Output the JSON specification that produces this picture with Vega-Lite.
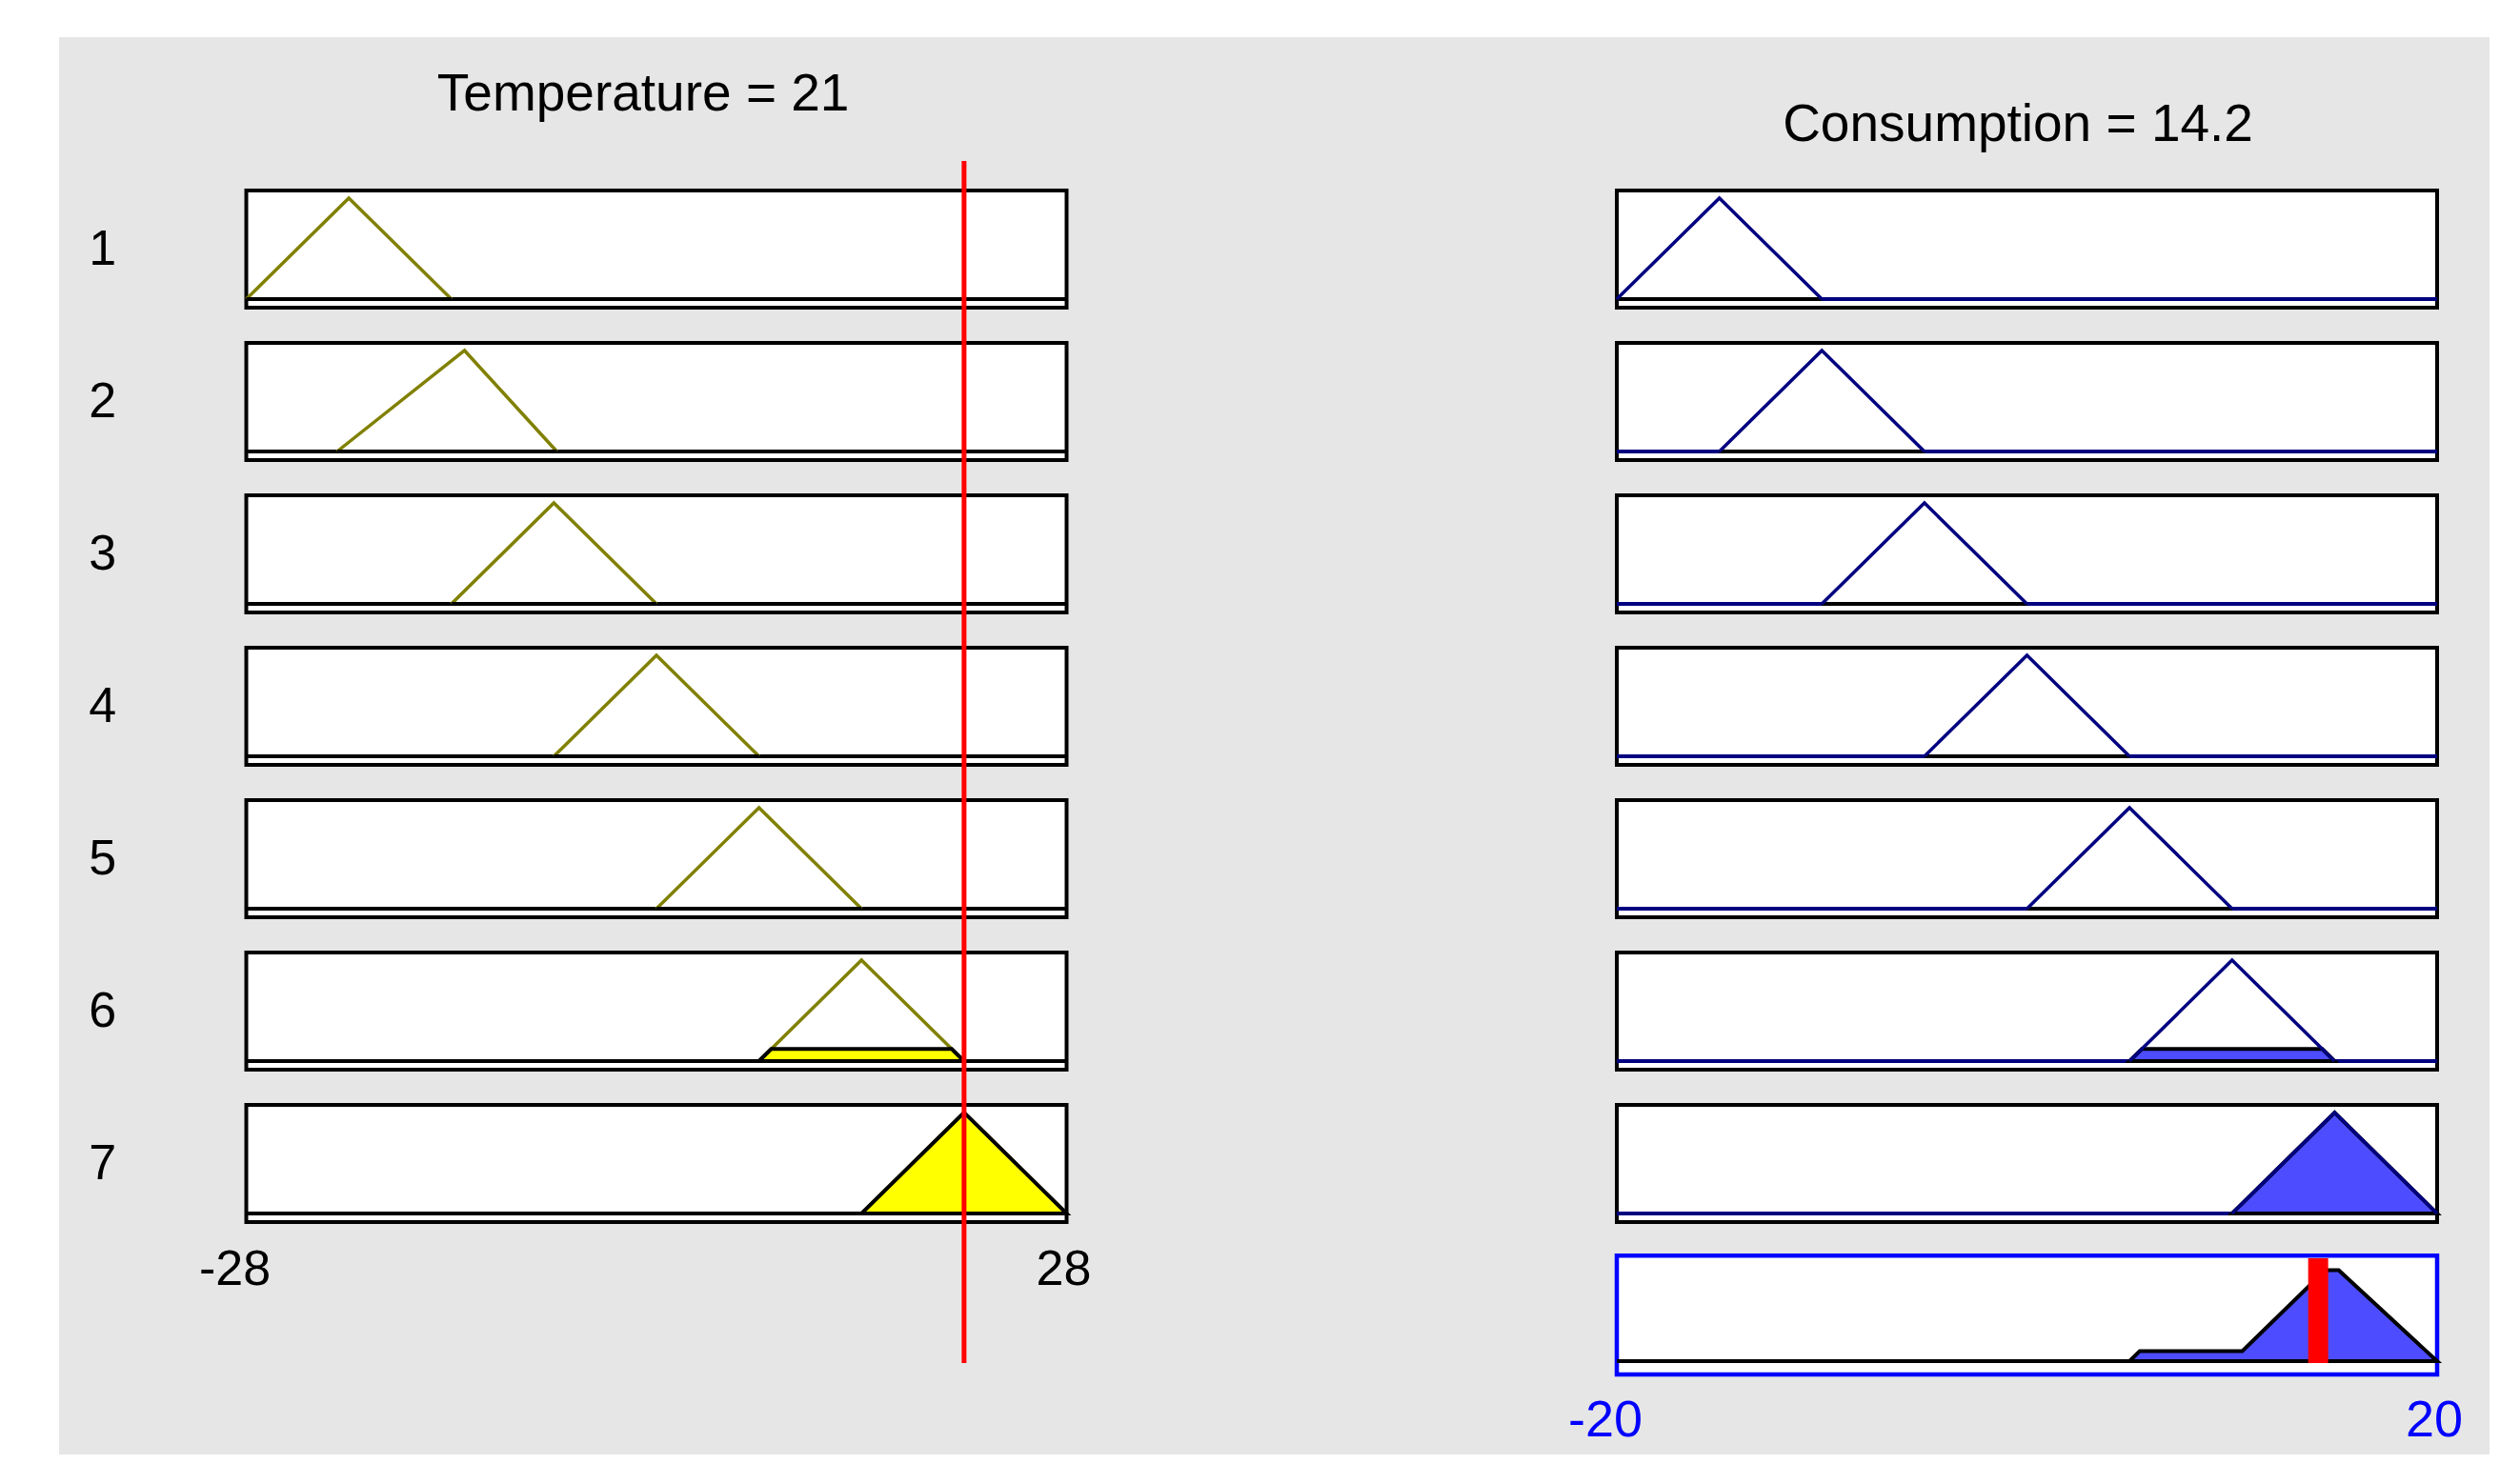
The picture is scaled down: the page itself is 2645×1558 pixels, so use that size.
{
  "$schema": "https://vega.github.io/schema/vega-lite/v6.json",
  "background": "#ffffff",
  "padding": {"left": 62, "top": 39, "right": 32, "bottom": 31},
  "config": {
    "view": {"fill": "#e6e6e6", "stroke": null},
    "axis": {"disable": true},
    "text": {"font": "Liberation Sans"}
  },
  "datasets": {
    "rules": [
      {"rule": 1, "label": "1"}, {"rule": 2, "label": "2"}, {"rule": 3, "label": "3"},
      {"rule": 4, "label": "4"}, {"rule": 5, "label": "5"}, {"rule": 6, "label": "6"},
      {"rule": 7, "label": "7"}
    ],
    "titles": [
      {"side": "in", "label": "Temperature = 21"},
      {"side": "out", "label": "Consumption = 14.2"}
    ],
    "crisp": [
      {"side": "in", "value": 21},
      {"side": "out", "value": 14.2}
    ],
    "ticks": [
      {"side": "in", "value": -28, "label": "-28"},
      {"side": "in", "value": 28, "label": "28"},
      {"side": "out", "value": -20, "label": "-20"},
      {"side": "out", "value": 20, "label": "20"}
    ],
    "tmf": [
      {"rule": 1, "x": -28, "mu": 0}, {"rule": 1, "x": -21, "mu": 1}, {"rule": 1, "x": -14, "mu": 0},
      {"rule": 2, "x": -21.8, "mu": 0}, {"rule": 2, "x": -13.1, "mu": 1}, {"rule": 2, "x": -6.8, "mu": 0},
      {"rule": 3, "x": -14, "mu": 0}, {"rule": 3, "x": -7, "mu": 1}, {"rule": 3, "x": 0, "mu": 0},
      {"rule": 4, "x": -7, "mu": 0}, {"rule": 4, "x": 0, "mu": 1}, {"rule": 4, "x": 7, "mu": 0},
      {"rule": 5, "x": 0, "mu": 0}, {"rule": 5, "x": 7, "mu": 1}, {"rule": 5, "x": 14, "mu": 0},
      {"rule": 6, "x": 7, "mu": 0}, {"rule": 6, "x": 14, "mu": 1}, {"rule": 6, "x": 21, "mu": 0},
      {"rule": 7, "x": 14, "mu": 0}, {"rule": 7, "x": 21, "mu": 1}, {"rule": 7, "x": 28, "mu": 0}
    ],
    "tpatch": [
      {"rule": 1, "x": -28, "mu": 0}, {"rule": 1, "x": -14, "mu": 0},
      {"rule": 2, "x": -21.8, "mu": 0}, {"rule": 2, "x": -6.8, "mu": 0},
      {"rule": 3, "x": -14, "mu": 0}, {"rule": 3, "x": 0, "mu": 0},
      {"rule": 4, "x": -7, "mu": 0}, {"rule": 4, "x": 7, "mu": 0},
      {"rule": 5, "x": 0, "mu": 0}, {"rule": 5, "x": 14, "mu": 0},
      {"rule": 6, "x": 7, "mu": 0}, {"rule": 6, "x": 7.84, "mu": 0.12}, {"rule": 6, "x": 20.16, "mu": 0.12}, {"rule": 6, "x": 21, "mu": 0},
      {"rule": 7, "x": 14, "mu": 0}, {"rule": 7, "x": 21, "mu": 1}, {"rule": 7, "x": 28, "mu": 0}
    ],
    "cmf": [
      {"rule": 1, "x": -20, "mu": 0}, {"rule": 1, "x": -15, "mu": 1}, {"rule": 1, "x": -10, "mu": 0},
      {"rule": 2, "x": -15, "mu": 0}, {"rule": 2, "x": -10, "mu": 1}, {"rule": 2, "x": -5, "mu": 0},
      {"rule": 3, "x": -10, "mu": 0}, {"rule": 3, "x": -5, "mu": 1}, {"rule": 3, "x": 0, "mu": 0},
      {"rule": 4, "x": -5, "mu": 0}, {"rule": 4, "x": 0, "mu": 1}, {"rule": 4, "x": 5, "mu": 0},
      {"rule": 5, "x": 0, "mu": 0}, {"rule": 5, "x": 5, "mu": 1}, {"rule": 5, "x": 10, "mu": 0},
      {"rule": 6, "x": 5, "mu": 0}, {"rule": 6, "x": 10, "mu": 1}, {"rule": 6, "x": 15, "mu": 0},
      {"rule": 7, "x": 10, "mu": 0}, {"rule": 7, "x": 15, "mu": 1}, {"rule": 7, "x": 20, "mu": 0}
    ],
    "cpatch": [
      {"rule": 1, "x": -20, "mu": 0}, {"rule": 1, "x": -10, "mu": 0},
      {"rule": 2, "x": -15, "mu": 0}, {"rule": 2, "x": -5, "mu": 0},
      {"rule": 3, "x": -10, "mu": 0}, {"rule": 3, "x": 0, "mu": 0},
      {"rule": 4, "x": -5, "mu": 0}, {"rule": 4, "x": 5, "mu": 0},
      {"rule": 5, "x": 0, "mu": 0}, {"rule": 5, "x": 10, "mu": 0},
      {"rule": 6, "x": 5, "mu": 0}, {"rule": 6, "x": 5.6, "mu": 0.12}, {"rule": 6, "x": 14.4, "mu": 0.12}, {"rule": 6, "x": 15, "mu": 0},
      {"rule": 7, "x": 10, "mu": 0}, {"rule": 7, "x": 15, "mu": 1}, {"rule": 7, "x": 20, "mu": 0}
    ],
    "agg": [
      {"x": 5, "mu": 0}, {"x": 5.5, "mu": 0.1}, {"x": 10.5, "mu": 0.1},
      {"x": 14.55, "mu": 0.9}, {"x": 15.2, "mu": 0.9}, {"x": 20, "mu": 0}
    ]
  },
  "hconcat": [
    {
      "spacing": 0,
      "bounds": "flush",
      "vconcat": [
        {
          "width": 1338, "height": 303,
          "data": {"name": "rules"}, "transform": [{"filter": "datum.rule == 1"}],
          "layer": [
            {"mark": {"type": "rect", "fill": "#ffffff", "stroke": "#000000", "strokeWidth": 4},
             "encoding": {"x": {"datum": -28, "type": "quantitative", "scale": {"domain": [-40.78, 46.244], "nice": false, "zero": false}}, "x2": {"datum": 28},
                          "y": {"datum": -0.085, "type": "quantitative", "scale": {"domain": [-0.26415, 2.59434], "nice": false, "zero": false}}, "y2": {"datum": 1.0755}}},
            {"mark": {"type": "rule", "color": "#000000", "strokeWidth": 4},
             "encoding": {"x": {"datum": -28, "type": "quantitative"}, "x2": {"datum": 28}, "y": {"datum": 0, "type": "quantitative"}}},
            {"data": {"name": "tmf"}, "transform": [{"filter": "datum.rule == 1"}],
             "mark": {"type": "line", "color": "#808000", "strokeWidth": 3.5},
             "encoding": {"x": {"field": "x", "type": "quantitative"}, "y": {"field": "mu", "type": "quantitative"}}},
            {"data": {"name": "tpatch"}, "transform": [{"filter": "datum.rule == 1"}],
             "mark": {"type": "area", "fill": "#ffff00", "stroke": "#000000", "strokeWidth": 4},
             "encoding": {"x": {"field": "x", "type": "quantitative"}, "y": {"field": "mu", "type": "quantitative"}, "y2": {"datum": 0}}},
            {"mark": {"type": "text", "fontSize": 52, "align": "center", "baseline": "alphabetic", "color": "#000000"},
             "encoding": {"x": {"datum": -37.8, "type": "quantitative"}, "y": {"datum": 0.34, "type": "quantitative"}, "text": {"field": "label", "type": "nominal"}}},
            {"data": {"name": "titles"}, "transform": [{"filter": "datum.side == 'in'"}],
             "mark": {"type": "text", "fontSize": 55, "align": "center", "baseline": "alphabetic", "color": "#000000"},
             "encoding": {"x": {"datum": -0.9, "type": "quantitative"}, "y": {"datum": 1.868, "type": "quantitative"}, "text": {"field": "label", "type": "nominal"}}},
            {"data": {"name": "crisp"}, "transform": [{"filter": "datum.side == 'in'"}],
             "mark": {"type": "rule", "color": "#ff0000", "strokeWidth": 5},
             "encoding": {"x": {"field": "value", "type": "quantitative"}, "y": {"datum": 1.368, "type": "quantitative"}, "y2": {"datum": -0.26415}}}
          ]
        },
        {
          "width": 1338, "height": 160,
          "data": {"name": "rules"}, "transform": [{"filter": "datum.rule == 2"}],
          "layer": [
            {"mark": {"type": "rect", "fill": "#ffffff", "stroke": "#000000", "strokeWidth": 4},
             "encoding": {"x": {"datum": -28, "type": "quantitative", "scale": {"domain": [-40.78, 46.244], "nice": false, "zero": false}}, "x2": {"datum": 28},
                          "y": {"datum": -0.085, "type": "quantitative", "scale": {"domain": [-0.26415, 1.24528], "nice": false, "zero": false}}, "y2": {"datum": 1.0755}}},
            {"mark": {"type": "rule", "color": "#000000", "strokeWidth": 4},
             "encoding": {"x": {"datum": -28, "type": "quantitative"}, "x2": {"datum": 28}, "y": {"datum": 0, "type": "quantitative"}}},
            {"data": {"name": "tmf"}, "transform": [{"filter": "datum.rule == 2"}],
             "mark": {"type": "line", "color": "#808000", "strokeWidth": 3.5},
             "encoding": {"x": {"field": "x", "type": "quantitative"}, "y": {"field": "mu", "type": "quantitative"}}},
            {"data": {"name": "tpatch"}, "transform": [{"filter": "datum.rule == 2"}],
             "mark": {"type": "area", "fill": "#ffff00", "stroke": "#000000", "strokeWidth": 4},
             "encoding": {"x": {"field": "x", "type": "quantitative"}, "y": {"field": "mu", "type": "quantitative"}, "y2": {"datum": 0}}},
            {"mark": {"type": "text", "fontSize": 52, "align": "center", "baseline": "alphabetic", "color": "#000000"},
             "encoding": {"x": {"datum": -37.8, "type": "quantitative"}, "y": {"datum": 0.34, "type": "quantitative"}, "text": {"field": "label", "type": "nominal"}}},
            {"data": {"name": "crisp"}, "transform": [{"filter": "datum.side == 'in'"}],
             "mark": {"type": "rule", "color": "#ff0000", "strokeWidth": 5},
             "encoding": {"x": {"field": "value", "type": "quantitative"}}}
          ]
        },
        {
          "width": 1338, "height": 160,
          "data": {"name": "rules"}, "transform": [{"filter": "datum.rule == 3"}],
          "layer": [
            {"mark": {"type": "rect", "fill": "#ffffff", "stroke": "#000000", "strokeWidth": 4},
             "encoding": {"x": {"datum": -28, "type": "quantitative", "scale": {"domain": [-40.78, 46.244], "nice": false, "zero": false}}, "x2": {"datum": 28},
                          "y": {"datum": -0.085, "type": "quantitative", "scale": {"domain": [-0.26415, 1.24528], "nice": false, "zero": false}}, "y2": {"datum": 1.0755}}},
            {"mark": {"type": "rule", "color": "#000000", "strokeWidth": 4},
             "encoding": {"x": {"datum": -28, "type": "quantitative"}, "x2": {"datum": 28}, "y": {"datum": 0, "type": "quantitative"}}},
            {"data": {"name": "tmf"}, "transform": [{"filter": "datum.rule == 3"}],
             "mark": {"type": "line", "color": "#808000", "strokeWidth": 3.5},
             "encoding": {"x": {"field": "x", "type": "quantitative"}, "y": {"field": "mu", "type": "quantitative"}}},
            {"data": {"name": "tpatch"}, "transform": [{"filter": "datum.rule == 3"}],
             "mark": {"type": "area", "fill": "#ffff00", "stroke": "#000000", "strokeWidth": 4},
             "encoding": {"x": {"field": "x", "type": "quantitative"}, "y": {"field": "mu", "type": "quantitative"}, "y2": {"datum": 0}}},
            {"mark": {"type": "text", "fontSize": 52, "align": "center", "baseline": "alphabetic", "color": "#000000"},
             "encoding": {"x": {"datum": -37.8, "type": "quantitative"}, "y": {"datum": 0.34, "type": "quantitative"}, "text": {"field": "label", "type": "nominal"}}},
            {"data": {"name": "crisp"}, "transform": [{"filter": "datum.side == 'in'"}],
             "mark": {"type": "rule", "color": "#ff0000", "strokeWidth": 5},
             "encoding": {"x": {"field": "value", "type": "quantitative"}}}
          ]
        },
        {
          "width": 1338, "height": 160,
          "data": {"name": "rules"}, "transform": [{"filter": "datum.rule == 4"}],
          "layer": [
            {"mark": {"type": "rect", "fill": "#ffffff", "stroke": "#000000", "strokeWidth": 4},
             "encoding": {"x": {"datum": -28, "type": "quantitative", "scale": {"domain": [-40.78, 46.244], "nice": false, "zero": false}}, "x2": {"datum": 28},
                          "y": {"datum": -0.085, "type": "quantitative", "scale": {"domain": [-0.26415, 1.24528], "nice": false, "zero": false}}, "y2": {"datum": 1.0755}}},
            {"mark": {"type": "rule", "color": "#000000", "strokeWidth": 4},
             "encoding": {"x": {"datum": -28, "type": "quantitative"}, "x2": {"datum": 28}, "y": {"datum": 0, "type": "quantitative"}}},
            {"data": {"name": "tmf"}, "transform": [{"filter": "datum.rule == 4"}],
             "mark": {"type": "line", "color": "#808000", "strokeWidth": 3.5},
             "encoding": {"x": {"field": "x", "type": "quantitative"}, "y": {"field": "mu", "type": "quantitative"}}},
            {"data": {"name": "tpatch"}, "transform": [{"filter": "datum.rule == 4"}],
             "mark": {"type": "area", "fill": "#ffff00", "stroke": "#000000", "strokeWidth": 4},
             "encoding": {"x": {"field": "x", "type": "quantitative"}, "y": {"field": "mu", "type": "quantitative"}, "y2": {"datum": 0}}},
            {"mark": {"type": "text", "fontSize": 52, "align": "center", "baseline": "alphabetic", "color": "#000000"},
             "encoding": {"x": {"datum": -37.8, "type": "quantitative"}, "y": {"datum": 0.34, "type": "quantitative"}, "text": {"field": "label", "type": "nominal"}}},
            {"data": {"name": "crisp"}, "transform": [{"filter": "datum.side == 'in'"}],
             "mark": {"type": "rule", "color": "#ff0000", "strokeWidth": 5},
             "encoding": {"x": {"field": "value", "type": "quantitative"}}}
          ]
        },
        {
          "width": 1338, "height": 160,
          "data": {"name": "rules"}, "transform": [{"filter": "datum.rule == 5"}],
          "layer": [
            {"mark": {"type": "rect", "fill": "#ffffff", "stroke": "#000000", "strokeWidth": 4},
             "encoding": {"x": {"datum": -28, "type": "quantitative", "scale": {"domain": [-40.78, 46.244], "nice": false, "zero": false}}, "x2": {"datum": 28},
                          "y": {"datum": -0.085, "type": "quantitative", "scale": {"domain": [-0.26415, 1.24528], "nice": false, "zero": false}}, "y2": {"datum": 1.0755}}},
            {"mark": {"type": "rule", "color": "#000000", "strokeWidth": 4},
             "encoding": {"x": {"datum": -28, "type": "quantitative"}, "x2": {"datum": 28}, "y": {"datum": 0, "type": "quantitative"}}},
            {"data": {"name": "tmf"}, "transform": [{"filter": "datum.rule == 5"}],
             "mark": {"type": "line", "color": "#808000", "strokeWidth": 3.5},
             "encoding": {"x": {"field": "x", "type": "quantitative"}, "y": {"field": "mu", "type": "quantitative"}}},
            {"data": {"name": "tpatch"}, "transform": [{"filter": "datum.rule == 5"}],
             "mark": {"type": "area", "fill": "#ffff00", "stroke": "#000000", "strokeWidth": 4},
             "encoding": {"x": {"field": "x", "type": "quantitative"}, "y": {"field": "mu", "type": "quantitative"}, "y2": {"datum": 0}}},
            {"mark": {"type": "text", "fontSize": 52, "align": "center", "baseline": "alphabetic", "color": "#000000"},
             "encoding": {"x": {"datum": -37.8, "type": "quantitative"}, "y": {"datum": 0.34, "type": "quantitative"}, "text": {"field": "label", "type": "nominal"}}},
            {"data": {"name": "crisp"}, "transform": [{"filter": "datum.side == 'in'"}],
             "mark": {"type": "rule", "color": "#ff0000", "strokeWidth": 5},
             "encoding": {"x": {"field": "value", "type": "quantitative"}}}
          ]
        },
        {
          "width": 1338, "height": 160,
          "data": {"name": "rules"}, "transform": [{"filter": "datum.rule == 6"}],
          "layer": [
            {"mark": {"type": "rect", "fill": "#ffffff", "stroke": "#000000", "strokeWidth": 4},
             "encoding": {"x": {"datum": -28, "type": "quantitative", "scale": {"domain": [-40.78, 46.244], "nice": false, "zero": false}}, "x2": {"datum": 28},
                          "y": {"datum": -0.085, "type": "quantitative", "scale": {"domain": [-0.26415, 1.24528], "nice": false, "zero": false}}, "y2": {"datum": 1.0755}}},
            {"mark": {"type": "rule", "color": "#000000", "strokeWidth": 4},
             "encoding": {"x": {"datum": -28, "type": "quantitative"}, "x2": {"datum": 28}, "y": {"datum": 0, "type": "quantitative"}}},
            {"data": {"name": "tmf"}, "transform": [{"filter": "datum.rule == 6"}],
             "mark": {"type": "line", "color": "#808000", "strokeWidth": 3.5},
             "encoding": {"x": {"field": "x", "type": "quantitative"}, "y": {"field": "mu", "type": "quantitative"}}},
            {"data": {"name": "tpatch"}, "transform": [{"filter": "datum.rule == 6"}],
             "mark": {"type": "area", "fill": "#ffff00", "stroke": "#000000", "strokeWidth": 4},
             "encoding": {"x": {"field": "x", "type": "quantitative"}, "y": {"field": "mu", "type": "quantitative"}, "y2": {"datum": 0}}},
            {"mark": {"type": "text", "fontSize": 52, "align": "center", "baseline": "alphabetic", "color": "#000000"},
             "encoding": {"x": {"datum": -37.8, "type": "quantitative"}, "y": {"datum": 0.34, "type": "quantitative"}, "text": {"field": "label", "type": "nominal"}}},
            {"data": {"name": "crisp"}, "transform": [{"filter": "datum.side == 'in'"}],
             "mark": {"type": "rule", "color": "#ff0000", "strokeWidth": 5},
             "encoding": {"x": {"field": "value", "type": "quantitative"}}}
          ]
        },
        {
          "width": 1338, "height": 385,
          "data": {"name": "rules"}, "transform": [{"filter": "datum.rule == 7"}],
          "layer": [
            {"mark": {"type": "rect", "fill": "#ffffff", "stroke": "#000000", "strokeWidth": 4},
             "encoding": {"x": {"datum": -28, "type": "quantitative", "scale": {"domain": [-40.78, 46.244], "nice": false, "zero": false}}, "x2": {"datum": 28},
                          "y": {"datum": -0.085, "type": "quantitative", "scale": {"domain": [-2.38679, 1.24528], "nice": false, "zero": false}}, "y2": {"datum": 1.0755}}},
            {"mark": {"type": "rule", "color": "#000000", "strokeWidth": 4},
             "encoding": {"x": {"datum": -28, "type": "quantitative"}, "x2": {"datum": 28}, "y": {"datum": 0, "type": "quantitative"}}},
            {"data": {"name": "tmf"}, "transform": [{"filter": "datum.rule == 7"}],
             "mark": {"type": "line", "color": "#808000", "strokeWidth": 3.5},
             "encoding": {"x": {"field": "x", "type": "quantitative"}, "y": {"field": "mu", "type": "quantitative"}}},
            {"data": {"name": "tpatch"}, "transform": [{"filter": "datum.rule == 7"}],
             "mark": {"type": "area", "fill": "#ffff00", "stroke": "#000000", "strokeWidth": 4},
             "encoding": {"x": {"field": "x", "type": "quantitative"}, "y": {"field": "mu", "type": "quantitative"}, "y2": {"datum": 0}}},
            {"mark": {"type": "text", "fontSize": 52, "align": "center", "baseline": "alphabetic", "color": "#000000"},
             "encoding": {"x": {"datum": -37.8, "type": "quantitative"}, "y": {"datum": 0.34, "type": "quantitative"}, "text": {"field": "label", "type": "nominal"}}},
            {"data": {"name": "ticks"}, "transform": [{"filter": "datum.side == 'in' && datum.value < 0"}],
             "mark": {"type": "text", "fontSize": 52, "align": "center", "baseline": "alphabetic", "color": "#000000", "dx": -12},
             "encoding": {"x": {"field": "value", "type": "quantitative"}, "y": {"datum": -0.7075, "type": "quantitative"}, "text": {"field": "label", "type": "nominal"}}},
            {"data": {"name": "ticks"}, "transform": [{"filter": "datum.side == 'in' && datum.value > 0"}],
             "mark": {"type": "text", "fontSize": 52, "align": "center", "baseline": "alphabetic", "color": "#000000", "dx": -3},
             "encoding": {"x": {"field": "value", "type": "quantitative"}, "y": {"datum": -0.7075, "type": "quantitative"}, "text": {"field": "label", "type": "nominal"}}},
            {"data": {"name": "crisp"}, "transform": [{"filter": "datum.side == 'in'"}],
             "mark": {"type": "rule", "color": "#ff0000", "strokeWidth": 5},
             "encoding": {"x": {"field": "value", "type": "quantitative"}, "y": {"datum": 1.24528, "type": "quantitative"}, "y2": {"datum": -1.481}}}
          ]
        }
      ]
    },
    {
      "spacing": 0,
      "bounds": "flush",
      "vconcat": [
        {
          "width": 1213, "height": 303,
          "data": {"name": "rules"}, "transform": [{"filter": "datum.rule == 1"}],
          "layer": [
            {"mark": {"type": "rect", "fill": "#ffffff", "stroke": "#000000", "strokeWidth": 4},
             "encoding": {"x": {"datum": -20, "type": "quantitative", "scale": {"domain": [-33.798, 22.555], "nice": false, "zero": false}}, "x2": {"datum": 20},
                          "y": {"datum": -0.085, "type": "quantitative", "scale": {"domain": [-0.26415, 2.59434], "nice": false, "zero": false}}, "y2": {"datum": 1.0755}}},
            {"mark": {"type": "rule", "color": "#000080", "strokeWidth": 4},
             "encoding": {"x": {"datum": -20, "type": "quantitative"}, "x2": {"datum": 20}, "y": {"datum": 0, "type": "quantitative"}}},
            {"data": {"name": "cpatch"}, "transform": [{"filter": "datum.rule == 1"}],
             "mark": {"type": "area", "fill": "#4d4dff", "stroke": "#000000", "strokeWidth": 4},
             "encoding": {"x": {"field": "x", "type": "quantitative"}, "y": {"field": "mu", "type": "quantitative"}, "y2": {"datum": 0}}},
            {"data": {"name": "cmf"}, "transform": [{"filter": "datum.rule == 1"}],
             "mark": {"type": "line", "color": "#000080", "strokeWidth": 3.5},
             "encoding": {"x": {"field": "x", "type": "quantitative"}, "y": {"field": "mu", "type": "quantitative"}}},
            {"data": {"name": "titles"}, "transform": [{"filter": "datum.side == 'out'"}],
             "mark": {"type": "text", "fontSize": 55, "align": "center", "baseline": "alphabetic", "color": "#000000"},
             "encoding": {"x": {"datum": -0.44, "type": "quantitative"}, "y": {"datum": 1.566, "type": "quantitative"}, "text": {"field": "label", "type": "nominal"}}}
          ]
        },
        {
          "width": 1213, "height": 160,
          "data": {"name": "rules"}, "transform": [{"filter": "datum.rule == 2"}],
          "layer": [
            {"mark": {"type": "rect", "fill": "#ffffff", "stroke": "#000000", "strokeWidth": 4},
             "encoding": {"x": {"datum": -20, "type": "quantitative", "scale": {"domain": [-33.798, 22.555], "nice": false, "zero": false}}, "x2": {"datum": 20},
                          "y": {"datum": -0.085, "type": "quantitative", "scale": {"domain": [-0.26415, 1.24528], "nice": false, "zero": false}}, "y2": {"datum": 1.0755}}},
            {"mark": {"type": "rule", "color": "#000080", "strokeWidth": 4},
             "encoding": {"x": {"datum": -20, "type": "quantitative"}, "x2": {"datum": 20}, "y": {"datum": 0, "type": "quantitative"}}},
            {"data": {"name": "cpatch"}, "transform": [{"filter": "datum.rule == 2"}],
             "mark": {"type": "area", "fill": "#4d4dff", "stroke": "#000000", "strokeWidth": 4},
             "encoding": {"x": {"field": "x", "type": "quantitative"}, "y": {"field": "mu", "type": "quantitative"}, "y2": {"datum": 0}}},
            {"data": {"name": "cmf"}, "transform": [{"filter": "datum.rule == 2"}],
             "mark": {"type": "line", "color": "#000080", "strokeWidth": 3.5},
             "encoding": {"x": {"field": "x", "type": "quantitative"}, "y": {"field": "mu", "type": "quantitative"}}}
          ]
        },
        {
          "width": 1213, "height": 160,
          "data": {"name": "rules"}, "transform": [{"filter": "datum.rule == 3"}],
          "layer": [
            {"mark": {"type": "rect", "fill": "#ffffff", "stroke": "#000000", "strokeWidth": 4},
             "encoding": {"x": {"datum": -20, "type": "quantitative", "scale": {"domain": [-33.798, 22.555], "nice": false, "zero": false}}, "x2": {"datum": 20},
                          "y": {"datum": -0.085, "type": "quantitative", "scale": {"domain": [-0.26415, 1.24528], "nice": false, "zero": false}}, "y2": {"datum": 1.0755}}},
            {"mark": {"type": "rule", "color": "#000080", "strokeWidth": 4},
             "encoding": {"x": {"datum": -20, "type": "quantitative"}, "x2": {"datum": 20}, "y": {"datum": 0, "type": "quantitative"}}},
            {"data": {"name": "cpatch"}, "transform": [{"filter": "datum.rule == 3"}],
             "mark": {"type": "area", "fill": "#4d4dff", "stroke": "#000000", "strokeWidth": 4},
             "encoding": {"x": {"field": "x", "type": "quantitative"}, "y": {"field": "mu", "type": "quantitative"}, "y2": {"datum": 0}}},
            {"data": {"name": "cmf"}, "transform": [{"filter": "datum.rule == 3"}],
             "mark": {"type": "line", "color": "#000080", "strokeWidth": 3.5},
             "encoding": {"x": {"field": "x", "type": "quantitative"}, "y": {"field": "mu", "type": "quantitative"}}}
          ]
        },
        {
          "width": 1213, "height": 160,
          "data": {"name": "rules"}, "transform": [{"filter": "datum.rule == 4"}],
          "layer": [
            {"mark": {"type": "rect", "fill": "#ffffff", "stroke": "#000000", "strokeWidth": 4},
             "encoding": {"x": {"datum": -20, "type": "quantitative", "scale": {"domain": [-33.798, 22.555], "nice": false, "zero": false}}, "x2": {"datum": 20},
                          "y": {"datum": -0.085, "type": "quantitative", "scale": {"domain": [-0.26415, 1.24528], "nice": false, "zero": false}}, "y2": {"datum": 1.0755}}},
            {"mark": {"type": "rule", "color": "#000080", "strokeWidth": 4},
             "encoding": {"x": {"datum": -20, "type": "quantitative"}, "x2": {"datum": 20}, "y": {"datum": 0, "type": "quantitative"}}},
            {"data": {"name": "cpatch"}, "transform": [{"filter": "datum.rule == 4"}],
             "mark": {"type": "area", "fill": "#4d4dff", "stroke": "#000000", "strokeWidth": 4},
             "encoding": {"x": {"field": "x", "type": "quantitative"}, "y": {"field": "mu", "type": "quantitative"}, "y2": {"datum": 0}}},
            {"data": {"name": "cmf"}, "transform": [{"filter": "datum.rule == 4"}],
             "mark": {"type": "line", "color": "#000080", "strokeWidth": 3.5},
             "encoding": {"x": {"field": "x", "type": "quantitative"}, "y": {"field": "mu", "type": "quantitative"}}}
          ]
        },
        {
          "width": 1213, "height": 160,
          "data": {"name": "rules"}, "transform": [{"filter": "datum.rule == 5"}],
          "layer": [
            {"mark": {"type": "rect", "fill": "#ffffff", "stroke": "#000000", "strokeWidth": 4},
             "encoding": {"x": {"datum": -20, "type": "quantitative", "scale": {"domain": [-33.798, 22.555], "nice": false, "zero": false}}, "x2": {"datum": 20},
                          "y": {"datum": -0.085, "type": "quantitative", "scale": {"domain": [-0.26415, 1.24528], "nice": false, "zero": false}}, "y2": {"datum": 1.0755}}},
            {"mark": {"type": "rule", "color": "#000080", "strokeWidth": 4},
             "encoding": {"x": {"datum": -20, "type": "quantitative"}, "x2": {"datum": 20}, "y": {"datum": 0, "type": "quantitative"}}},
            {"data": {"name": "cpatch"}, "transform": [{"filter": "datum.rule == 5"}],
             "mark": {"type": "area", "fill": "#4d4dff", "stroke": "#000000", "strokeWidth": 4},
             "encoding": {"x": {"field": "x", "type": "quantitative"}, "y": {"field": "mu", "type": "quantitative"}, "y2": {"datum": 0}}},
            {"data": {"name": "cmf"}, "transform": [{"filter": "datum.rule == 5"}],
             "mark": {"type": "line", "color": "#000080", "strokeWidth": 3.5},
             "encoding": {"x": {"field": "x", "type": "quantitative"}, "y": {"field": "mu", "type": "quantitative"}}}
          ]
        },
        {
          "width": 1213, "height": 160,
          "data": {"name": "rules"}, "transform": [{"filter": "datum.rule == 6"}],
          "layer": [
            {"mark": {"type": "rect", "fill": "#ffffff", "stroke": "#000000", "strokeWidth": 4},
             "encoding": {"x": {"datum": -20, "type": "quantitative", "scale": {"domain": [-33.798, 22.555], "nice": false, "zero": false}}, "x2": {"datum": 20},
                          "y": {"datum": -0.085, "type": "quantitative", "scale": {"domain": [-0.26415, 1.24528], "nice": false, "zero": false}}, "y2": {"datum": 1.0755}}},
            {"mark": {"type": "rule", "color": "#000080", "strokeWidth": 4},
             "encoding": {"x": {"datum": -20, "type": "quantitative"}, "x2": {"datum": 20}, "y": {"datum": 0, "type": "quantitative"}}},
            {"data": {"name": "cpatch"}, "transform": [{"filter": "datum.rule == 6"}],
             "mark": {"type": "area", "fill": "#4d4dff", "stroke": "#000000", "strokeWidth": 4},
             "encoding": {"x": {"field": "x", "type": "quantitative"}, "y": {"field": "mu", "type": "quantitative"}, "y2": {"datum": 0}}},
            {"data": {"name": "cmf"}, "transform": [{"filter": "datum.rule == 6"}],
             "mark": {"type": "line", "color": "#000080", "strokeWidth": 3.5},
             "encoding": {"x": {"field": "x", "type": "quantitative"}, "y": {"field": "mu", "type": "quantitative"}}}
          ]
        },
        {
          "width": 1213, "height": 160,
          "data": {"name": "rules"}, "transform": [{"filter": "datum.rule == 7"}],
          "layer": [
            {"mark": {"type": "rect", "fill": "#ffffff", "stroke": "#000000", "strokeWidth": 4},
             "encoding": {"x": {"datum": -20, "type": "quantitative", "scale": {"domain": [-33.798, 22.555], "nice": false, "zero": false}}, "x2": {"datum": 20},
                          "y": {"datum": -0.085, "type": "quantitative", "scale": {"domain": [-0.26415, 1.24528], "nice": false, "zero": false}}, "y2": {"datum": 1.0755}}},
            {"mark": {"type": "rule", "color": "#000080", "strokeWidth": 4},
             "encoding": {"x": {"datum": -20, "type": "quantitative"}, "x2": {"datum": 20}, "y": {"datum": 0, "type": "quantitative"}}},
            {"data": {"name": "cpatch"}, "transform": [{"filter": "datum.rule == 7"}],
             "mark": {"type": "area", "fill": "#4d4dff", "stroke": "#000000", "strokeWidth": 4},
             "encoding": {"x": {"field": "x", "type": "quantitative"}, "y": {"field": "mu", "type": "quantitative"}, "y2": {"datum": 0}}},
            {"data": {"name": "cmf"}, "transform": [{"filter": "datum.rule == 7"}],
             "mark": {"type": "line", "color": "#000080", "strokeWidth": 3.5},
             "encoding": {"x": {"field": "x", "type": "quantitative"}, "y": {"field": "mu", "type": "quantitative"}}}
          ]
        },
        {
          "width": 1213, "height": 225,
          "data": {"name": "crisp"}, "transform": [{"filter": "datum.side == 'out'"}],
          "layer": [
            {"mark": {"type": "rect", "fill": "#ffffff", "stroke": "#0000ff", "strokeWidth": 4.5},
             "encoding": {"x": {"datum": -20, "type": "quantitative", "scale": {"domain": [-33.798, 22.555], "nice": false, "zero": false}}, "x2": {"datum": 20},
                          "y": {"datum": -0.132, "type": "quantitative", "scale": {"domain": [-0.92453, 1.19811], "nice": false, "zero": false}}, "y2": {"datum": 1.044}}},
            {"mark": {"type": "rule", "color": "#000000", "strokeWidth": 4},
             "encoding": {"x": {"datum": -20, "type": "quantitative"}, "x2": {"datum": 20}, "y": {"datum": 0, "type": "quantitative"}}},
            {"data": {"name": "agg"},
             "mark": {"type": "area", "fill": "#4d4dff", "stroke": "#000000", "strokeWidth": 4},
             "encoding": {"x": {"field": "x", "type": "quantitative"}, "y": {"field": "mu", "type": "quantitative"}, "y2": {"datum": 0}}},
            {"mark": {"type": "rule", "color": "#ff0000", "strokeWidth": 21},
             "encoding": {"x": {"field": "value", "type": "quantitative"}, "y": {"datum": -0.02, "type": "quantitative"}, "y2": {"datum": 1.02}}},
            {"data": {"name": "ticks"}, "transform": [{"filter": "datum.side == 'out' && datum.value < 0"}],
             "mark": {"type": "text", "fontSize": 54, "align": "center", "baseline": "alphabetic", "color": "#0000ff", "dx": -12},
             "encoding": {"x": {"field": "value", "type": "quantitative"}, "y": {"datum": -0.745, "type": "quantitative"}, "text": {"field": "label", "type": "nominal"}}},
            {"data": {"name": "ticks"}, "transform": [{"filter": "datum.side == 'out' && datum.value > 0"}],
             "mark": {"type": "text", "fontSize": 54, "align": "center", "baseline": "alphabetic", "color": "#0000ff", "dx": -3},
             "encoding": {"x": {"field": "value", "type": "quantitative"}, "y": {"datum": -0.745, "type": "quantitative"}, "text": {"field": "label", "type": "nominal"}}}
          ]
        }
      ]
    }
  ],
  "spacing": 0
}
